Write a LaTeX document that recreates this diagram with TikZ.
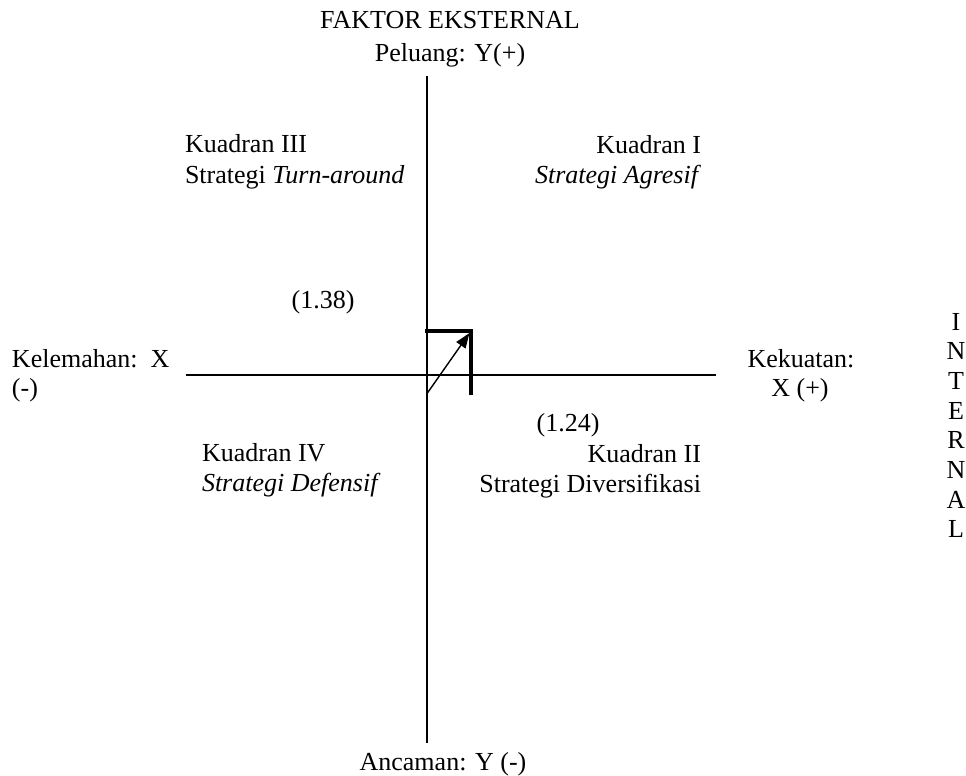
\documentclass[tikz,border=0pt]{standalone}
\usepackage{fontspec}
\setmainfont{Liberation Serif}
\usetikzlibrary{arrows.meta}
\begin{document}
\begin{tikzpicture}[x=1pt,y=-1pt,
  lbl/.style={inner sep=0pt,outer sep=0pt,font=\fontsize{26}{30}\selectfont},
  axis/.style={line width=1.8pt},
  bold/.style={line width=4pt},
  vec/.style={line width=1.4pt,-{Triangle[length=15pt,width=11pt]}}]
\useasboundingbox (0,0) rectangle (966,776);
% axes
\coordinate (top) at (426.7,76);
\coordinate (bot) at (426.7,743);
\coordinate (lft) at (186,375);
\coordinate (rgt) at (715.7,375);
\draw[axis] (top) -- (bot);
\draw[axis] (lft) -- (rgt);
% bold marks
\coordinate (h0) at (425,331);
\coordinate (h1) at (472.7,331);
\coordinate (v0) at (470.7,329);
\coordinate (v1) at (470.7,395);
\draw[bold] (h0) -- (h1);
\draw[bold] (v0) -- (v1);
% vector
\coordinate (o) at (426.7,394);
\coordinate (p) at (469.5,333);
\draw[vec] (o) -- (p);
% labels
\node[lbl,anchor=base] (fe) at (450,29) {FAKTOR EKSTERNAL};
\node[lbl,anchor=base] (pel) at (450,62) {Peluang: Y(+)};
\node[lbl,anchor=base] (anc) at (443,770) {Ancaman: Y (-)};
\node[lbl,anchor=base west] (k3a) at (185,152) {Kuadran III};
\node[lbl,anchor=base west] (k3b) at (185,183) {Strategi \textit{Turn-around}};
\node[lbl,anchor=base east] (k1a) at (701,153) {Kuadran I};
\node[lbl,anchor=base east] (k1b) at (701,183) {\textit{Strategi Agresif}};
\node[lbl,anchor=base] (v138) at (323,308) {(1.38)};
\node[lbl,anchor=base] (v124) at (568,431) {(1.24)};
\node[lbl,anchor=base west] (kel) at (12,367) {Kelemahan:\ \ X};
\node[lbl,anchor=base west] (kelb) at (12,396) {(-)};
\node[lbl,anchor=base] (kek) at (801,367) {Kekuatan:};
\node[lbl,anchor=base] (kekb) at (800,396) {X (+)};
\node[lbl,anchor=base west] (k4a) at (202,461) {Kuadran IV};
\node[lbl,anchor=base west] (k4b) at (202,491) {\textit{Strategi Defensif}};
\node[lbl,anchor=base east] (k2a) at (701,462) {Kuadran II};
\node[lbl,anchor=base east] (k2b) at (701,492) {Strategi Diversifikasi};
\foreach \ch [count=\i from 0] in {I,N,T,E,R,N,A,L}
  \node[lbl,anchor=base] (int\i) at (956,330+29.7*\i) {\ch};
\end{tikzpicture}
\end{document}
